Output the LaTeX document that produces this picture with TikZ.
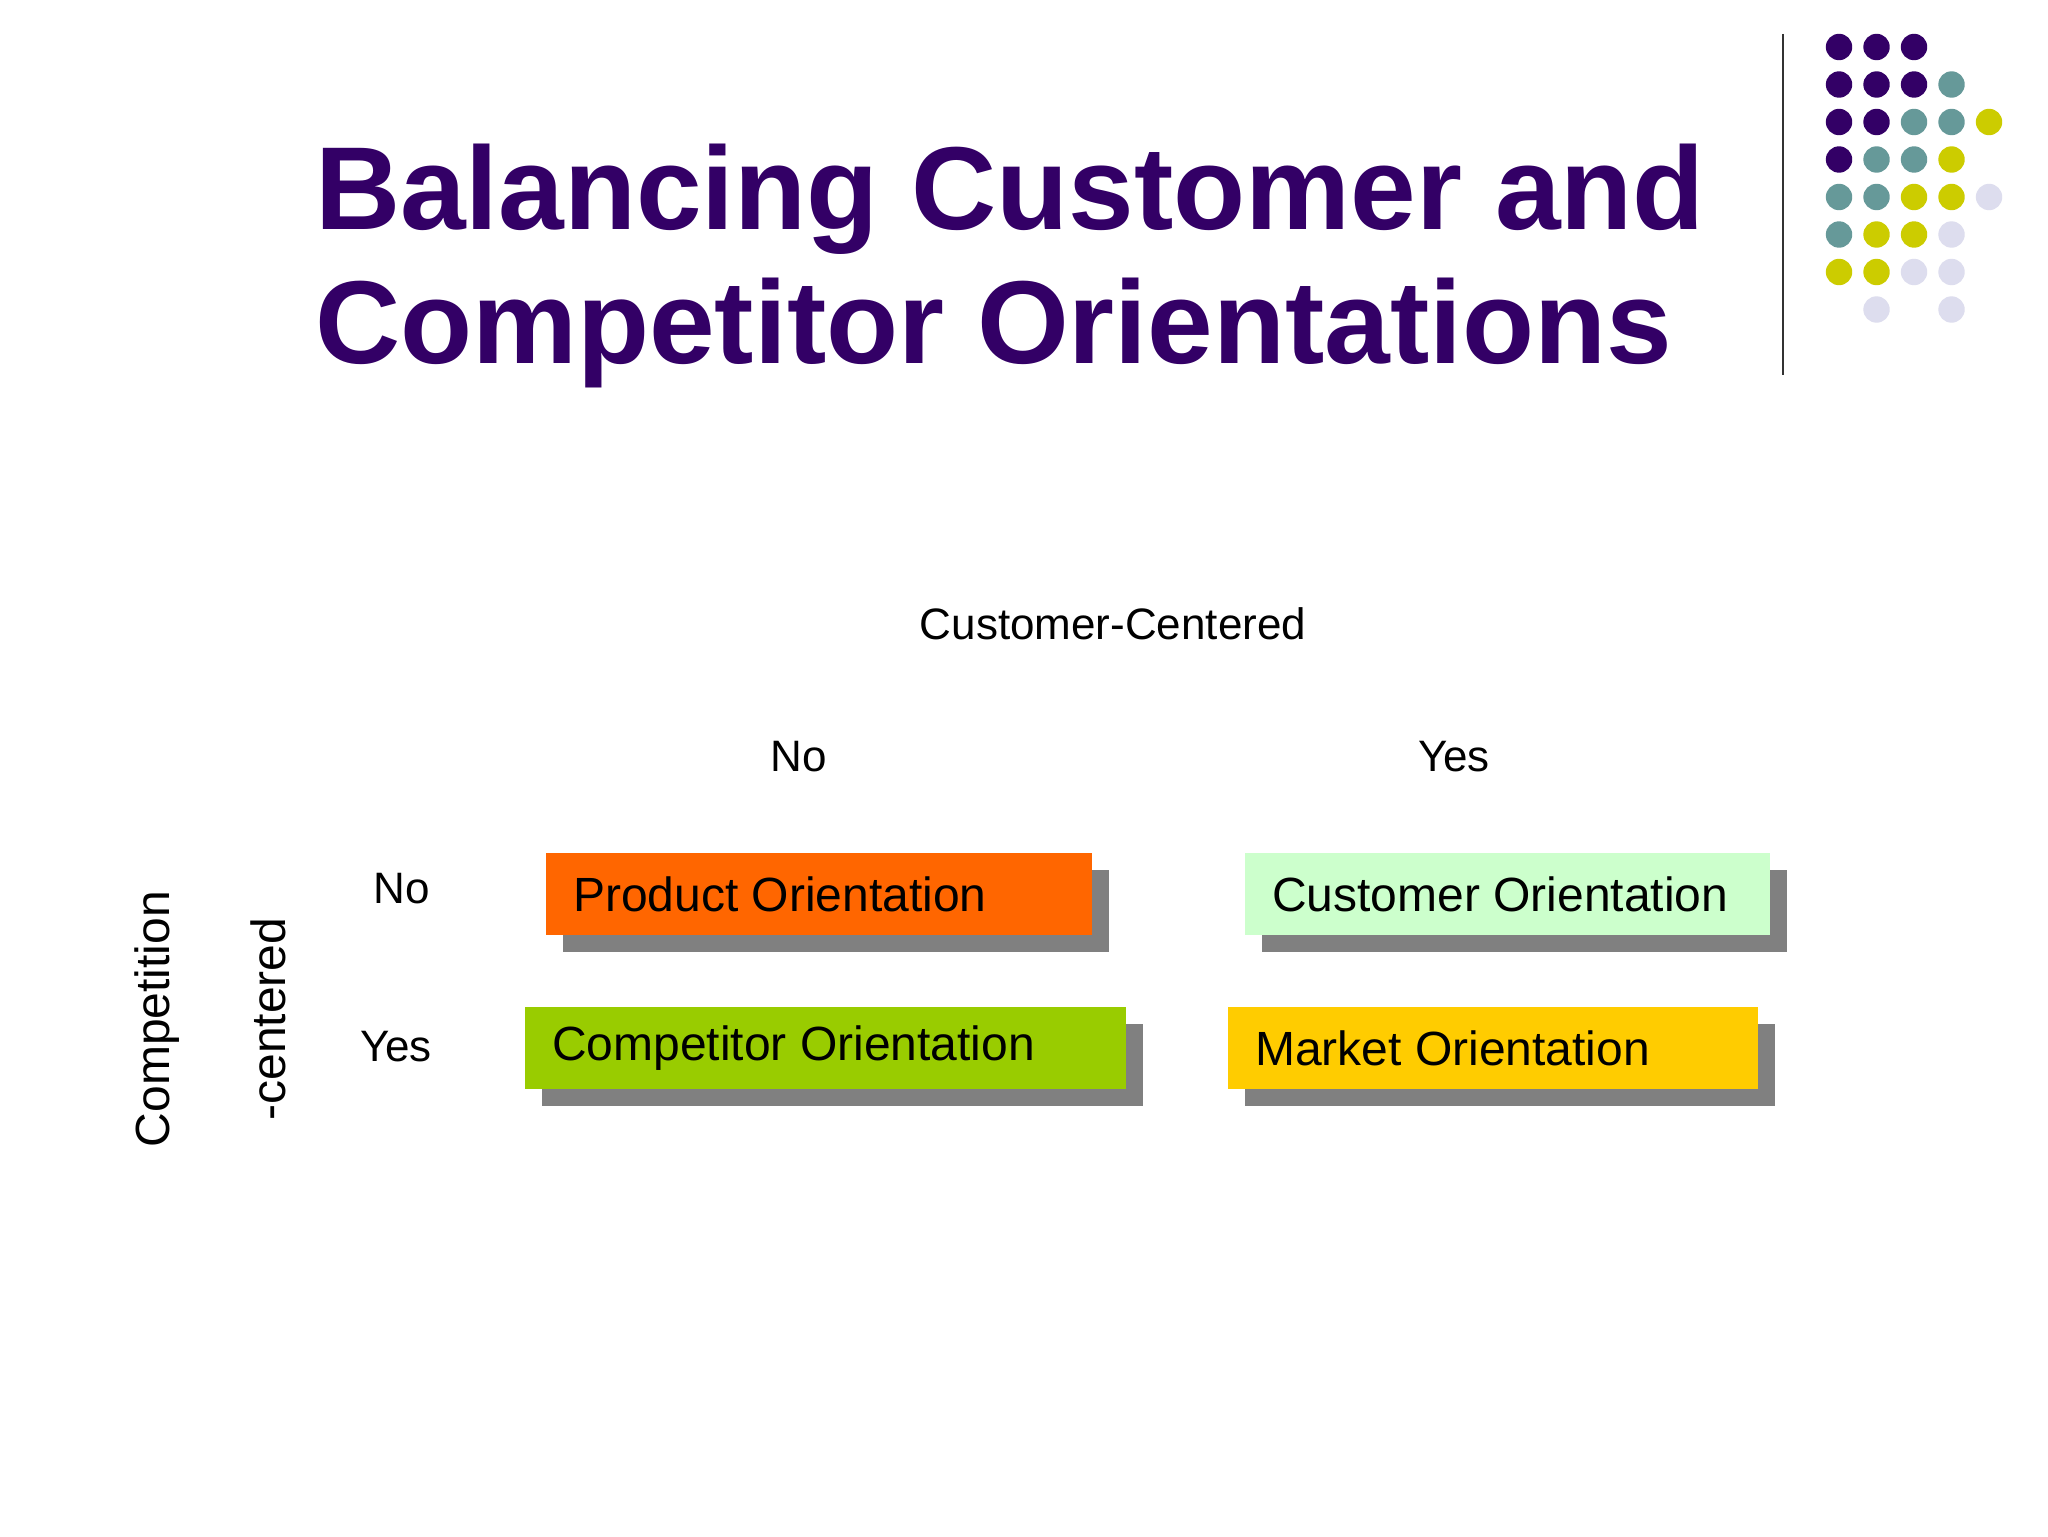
\documentclass[tikz,border=0pt]{standalone}
\usepackage{fontspec}
\setmainfont{Liberation Sans}
\definecolor{ttl}{HTML}{330066}
\definecolor{dp}{HTML}{330066}
\definecolor{dt}{HTML}{669999}
\definecolor{dy}{HTML}{CCCC00}
\definecolor{dl}{HTML}{DDDDEE}
\definecolor{cOr}{HTML}{FF6600}
\definecolor{cLg}{HTML}{CCFFCC}
\definecolor{cGr}{HTML}{99CC00}
\definecolor{cGo}{HTML}{FFCC00}
\definecolor{shd}{HTML}{808080}
\tikzset{lbl/.style={font=\fontsize{22}{26}\selectfont},
 boxtxt/.style={font=\fontsize{24}{28}\selectfont, anchor=west}}
\newcommand{\obox}[6]{% name, x1,y1,x2,y2,color
 \fill[shd] (#2+17,#3+17) rectangle (#4+17,#5+17);
 \fill[#6] (#2,#3) rectangle (#4,#5);
 \coordinate (#1) at (#2,#3/2+#5/2);}
\begin{document}
\begin{tikzpicture}[x=0.5pt,y=-0.5pt]
\useasboundingbox (0,0) rectangle (2048,1536);
\fill[white] (0,0) rectangle (2048,1536);
\node[anchor=base west, text=ttl, font=\fontsize{59}{70}\selectfont\bfseries, align=left] (title) at (308,229) {Balancing Customer and};
\node[anchor=base west, text=ttl, font=\fontsize{59}{70}\selectfont\bfseries] (title2) at (308,363) {Competitor Orientations};
\draw[line width=1.2pt, black!80] (1783,34) -- (1783,375);
\foreach \r/\cols in {0/{dp,dp,dp,,},1/{dp,dp,dp,dt,},2/{dp,dp,dt,dt,dy},3/{dp,dt,dt,dy,},4/{dt,dt,dy,dy,dl},5/{dt,dy,dy,dl,},6/{dy,dy,dl,dl,},7/{,dl,,dl,}}{
  \foreach \c [count=\i from 0] in \cols {
    \ifx\c\empty\else
    \fill[\c] (1839+37.5*\i,47+37.5*\r) circle (13.2);
    \fi}}
\node[lbl] (cc) at (1113,624) {Customer-Centered};
\node[lbl] (cno) at (799,757) {No};
\node[lbl] (cyes) at (1454,757) {Yes};
\node[lbl] (rno) at (402,889) {No};
\node[lbl] (ryes) at (396,1047) {Yes};
\node[lbl, rotate=90, align=center, font=\fontsize{24}{58}\selectfont] (cc2) at (210,1019) {Competition\\-centered};
\obox{p}{546}{853}{1092}{935}{cOr}
\obox{c}{1245}{853}{1770}{935}{cLg}
\obox{k}{525}{1007}{1126}{1089}{cGr}
\obox{m}{1228}{1007}{1758}{1089}{cGo}
\node[boxtxt] at ([xshift=10pt]p) {Product Orientation};
\node[boxtxt] at ([xshift=10pt]c) {Customer Orientation};
\node[boxtxt] at ([xshift=10pt]k) {Competitor Orientation};
\node[boxtxt] at ([xshift=10pt]m) {Market Orientation};
\end{tikzpicture}
\end{document}
